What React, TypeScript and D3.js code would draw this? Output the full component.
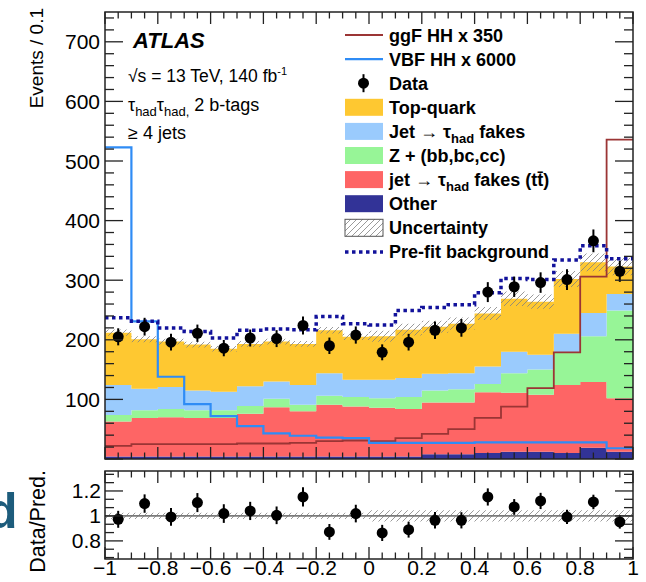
import React, { useEffect, useRef } from "react";
import * as d3 from "d3";

// bin edges: 20 bins of width 0.1 between -1 and 1
const binEdges = d3.range(21).map((i) => -1 + i * 0.1);

// background components (events per bin), stacked bottom -> top
const other = [4, 4, 4, 4, 4, 4, 4, 4, 4, 4, 4, 4, 8, 8, 10, 12, 12, 10, 19, 12];
const fakesTT = [59, 65, 66, 65, 65, 72, 83, 76, 87, 84, 82, 80, 87, 87, 102, 99, 96, 114, 110, 90];
const zHF = [11, 13, 14, 13, 13, 13, 14, 11, 15, 16, 16, 20, 20, 22, 14, 33, 42, 55, 77, 147];
const jetFakes = [50, 36, 37, 33, 31, 33, 29, 33, 38, 29, 31, 32, 28, 27, 29, 36, 25, 31, 39, 28];
const topQuark = [88, 83, 76, 77, 72, 71, 67, 69, 72, 72, 73, 81, 79, 83, 89, 89, 89, 92, 85, 46];

const data = [205, 222, 196, 211, 186, 203, 202, 224, 190, 208, 179, 196, 216, 220, 280, 289, 296, 301, 366, 315];
const preFit = [237, 231, 220, 214, 203, 216, 218, 217, 239, 227, 225, 249, 254, 259, 279, 303, 301, 334, 358, 336];
const ggF = [22, 25, 25, 25, 25, 26, 26, 27, 30, 31, 30, 35, 42, 50, 69, 88, 119, 179, 306, 536];
const vbf = [523, 231, 138, 92, 72, 55, 43, 39, 36, 35, 27, 27, 27, 27, 28, 28, 28, 28, 28, 18];

// relative background uncertainty and data/prediction ratio
const relUnc = [0.025, 0.025, 0.025, 0.025, 0.025, 0.025, 0.025, 0.025, 0.025, 0.025, 0.045, 0.045, 0.045, 0.045, 0.045, 0.045, 0.045, 0.045, 0.045, 0.045];
const ratio = [0.973, 1.099, 0.992, 1.107, 1.019, 1.04, 1.005, 1.152, 0.872, 1.019, 0.864, 0.89, 0.965, 0.965, 1.152, 1.072, 1.12, 0.992, 1.112, 0.952];

const mainTicks = [100, 200, 300, 400, 500, 600, 700];
const ratioTicks = [0.8, 1, 1.2];
const xTicks = [-1, -0.8, -0.6, -0.4, -0.2, 0, 0.2, 0.4, 0.6, 0.8, 1];

const FONT = "'Liberation Sans', Arial, Helvetica, sans-serif";

const stackKeys = ["other", "fakesTT", "zHF", "jetFakes", "topQuark"];
const stackColors = {
  other: "#323397",
  fakesTT: "#fe6565",
  zHF: "#97f597",
  jetFakes: "#9acbfd",
  topQuark: "#fec831",
};

function App() {
  const ref = useRef(null);

  useEffect(() => {
    const svg = d3.select(ref.current);
    svg.selectAll("*").remove();

    const left = 105, right = 633;
    const mTop = 12, mBot = 459;
    const rTop = 471, rBot = 559;

    const x = d3.scaleLinear().domain([-1, 1]).range([left, right]);
    const y = d3.scaleLinear().domain([0, 750]).range([mBot, mTop]);
    const yr = d3.scaleLinear().domain([0.655, 1.36]).range([rBot, rTop]);

    const defs = svg.append("defs");
    defs.append("pattern")
      .attr("id", "hatch")
      .attr("patternUnits", "userSpaceOnUse")
      .attr("width", 6).attr("height", 6)
      .append("path")
      .attr("d", "M-1,1 l2,-2 M0,6 l6,-6 M5,7 l2,-2")
      .attr("stroke", "#808080")
      .attr("stroke-width", 0.8);

    const rows = d3.range(20).map((i) => ({
      other: other[i], fakesTT: fakesTT[i], zHF: zHF[i], jetFakes: jetFakes[i], topQuark: topQuark[i],
    }));
    const series = d3.stack().keys(stackKeys)(rows);
    const total = rows.map((r) => stackKeys.reduce((s, k) => s + r[k], 0));

    // helper: points for step curves, repeating the last bin up to x = 1
    const stepPts = (f) => {
      const pts = d3.range(20).map((i) => ({ x: binEdges[i], ...f(i) }));
      pts.push({ x: 1, ...f(19) });
      return pts;
    };

    const area = d3.area()
      .x((d) => x(d.x))
      .y0((d) => d.lo)
      .y1((d) => d.hi)
      .curve(d3.curveStepAfter);
    const line = d3.line()
      .x((d) => x(d.x))
      .y((d) => d.v)
      .curve(d3.curveStepAfter);

    const main = svg.append("g");

    series.forEach((s) => {
      main.append("path")
        .attr("d", area(stepPts((i) => ({ lo: y(s[i][0]), hi: y(s[i][1]) }))))
        .attr("fill", stackColors[s.key]);
    });

    // uncertainty band
    main.append("path")
      .attr("d", area(stepPts((i) => ({ lo: y(total[i] * (1 - relUnc[i])), hi: y(total[i] * (1 + relUnc[i])) }))))
      .attr("fill", "url(#hatch)");

    main.append("path")
      .attr("d", line(stepPts((i) => ({ v: y(ggF[i]) }))))
      .attr("fill", "none").attr("stroke", "#9b3535").attr("stroke-width", 1.8);
    main.append("path")
      .attr("d", line(stepPts((i) => ({ v: y(vbf[i]) }))))
      .attr("fill", "none").attr("stroke", "#2f8cf5").attr("stroke-width", 2.2);
    main.append("path")
      .attr("d", line(stepPts((i) => ({ v: y(preFit[i]) }))))
      .attr("fill", "none").attr("stroke", "#12129b").attr("stroke-width", 3.5)
      .attr("stroke-dasharray", "3.5,3.5");

    // data points
    const centers = d3.range(20).map((i) => binEdges[i] + 0.05);
    main.selectAll(".derr").data(data).join("line")
      .attr("x1", (d, i) => x(centers[i])).attr("x2", (d, i) => x(centers[i]))
      .attr("y1", (d) => y(d - Math.sqrt(d))).attr("y2", (d) => y(d + Math.sqrt(d)))
      .attr("stroke", "#000").attr("stroke-width", 2);
    main.selectAll(".dpt").data(data).join("circle")
      .attr("cx", (d, i) => x(centers[i])).attr("cy", (d) => y(d))
      .attr("r", 5.5).attr("fill", "#000");

    // ratio panel
    const rp = svg.append("g");
    rp.append("path")
      .attr("d", area(stepPts((i) => ({ lo: yr(1 - relUnc[i]), hi: yr(1 + relUnc[i]) }))))
      .attr("fill", "url(#hatch)");
    rp.append("line")
      .attr("x1", left).attr("x2", right).attr("y1", yr(1)).attr("y2", yr(1))
      .attr("stroke", "#7a7a7a").attr("stroke-width", 1.8);
    rp.selectAll(".rerr").data(ratio).join("line")
      .attr("x1", (d, i) => x(centers[i])).attr("x2", (d, i) => x(centers[i]))
      .attr("y1", (d, i) => yr(d - d / Math.sqrt(data[i])))
      .attr("y2", (d, i) => yr(d + d / Math.sqrt(data[i])))
      .attr("stroke", "#000").attr("stroke-width", 2);
    rp.selectAll(".rpt").data(ratio).join("circle")
      .attr("cx", (d, i) => x(centers[i])).attr("cy", (d) => yr(d))
      .attr("r", 5.5).attr("fill", "#000");

    // frames and ticks
    const frame = (top, bot) => {
      svg.append("rect")
        .attr("x", left).attr("y", top).attr("width", right - left).attr("height", bot - top)
        .attr("fill", "none").attr("stroke", "#222").attr("stroke-width", 1.5);
    };
    frame(mTop, mBot);
    frame(rTop, rBot);

    const ticks = svg.append("g").attr("stroke", "#222").attr("stroke-width", 1.3);
    const xMinor = d3.range(41).map((i) => -1 + i * 0.05);
    [[mTop, mBot], [rTop, rBot]].forEach(([top, bot]) => {
      xMinor.forEach((v, i) => {
        const len = i % 4 === 0 ? 12 : 6.5;
        ticks.append("line").attr("x1", x(v)).attr("x2", x(v)).attr("y1", bot).attr("y2", bot - len);
        ticks.append("line").attr("x1", x(v)).attr("x2", x(v)).attr("y1", top).attr("y2", top + len);
      });
    });
    d3.range(0, 751, 20).forEach((v) => {
      const len = v % 100 === 0 ? 18 : 9;
      ticks.append("line").attr("x1", left).attr("x2", left + len).attr("y1", y(v)).attr("y2", y(v));
      ticks.append("line").attr("x1", right).attr("x2", right - len).attr("y1", y(v)).attr("y2", y(v));
    });
    d3.range(0, 12).map((i) => 0.6 + i * 0.2 / 3).filter((v) => v > 0.655 && v < 1.36).forEach((v) => {
      const major = ratioTicks.some((t) => Math.abs(t - v) < 1e-6);
      const len = major ? 18 : 9;
      ticks.append("line").attr("x1", left).attr("x2", left + len).attr("y1", yr(v)).attr("y2", yr(v));
      ticks.append("line").attr("x1", right).attr("x2", right - len).attr("y1", yr(v)).attr("y2", yr(v));
    });

    // tick labels
    const labels = svg.append("g").attr("font-family", FONT).attr("font-size", 21).attr("fill", "#000");
    mainTicks.forEach((v) => {
      labels.append("text").attr("x", 100).attr("y", y(v) + 7.5).attr("text-anchor", "end").text(v);
    });
    ratioTicks.forEach((v) => {
      labels.append("text").attr("x", 101).attr("y", yr(v) + 7.5).attr("text-anchor", "end").text(v);
    });
    xTicks.forEach((v) => {
      labels.append("text").attr("x", x(v)).attr("y", 575).attr("text-anchor", "middle")
        .text(d3.format("")(Math.round(v * 10) / 10).replace("-", "\u2212"));
    });

    // axis titles
    svg.append("text").attr("transform", "translate(43,8) rotate(-90)")
      .attr("text-anchor", "end").attr("font-family", FONT).attr("font-size", 19).text("Events / 0.1");
    svg.append("text").attr("transform", "translate(45,470) rotate(-90)")
      .attr("text-anchor", "end").attr("font-family", FONT).attr("font-size", 21.5).text("Data/Pred.");

    // cut-off letter at the left edge
    svg.append("text").attr("x", -13).attr("y", 528).attr("font-family", FONT)
      .attr("font-size", 50).attr("font-weight", "bold").attr("fill", "#1d5c7c").text("d");

    // ATLAS label
    const info = svg.append("g").attr("font-family", FONT).attr("fill", "#000");
    info.append("text").attr("x", 133).attr("y", 48).attr("font-size", 22)
      .attr("font-weight", "bold").attr("font-style", "italic").text("ATLAS");
    const t1 = info.append("text").attr("x", 128).attr("y", 82).attr("font-size", 17.5);
    t1.append("tspan").text("\u221As = 13 TeV, 140 fb");
    t1.append("tspan").attr("dy", -7).attr("font-size", 11).text("-1");
    const t2 = info.append("text").attr("x", 128).attr("y", 111).attr("font-size", 18);
    t2.append("tspan").text("\u03C4");
    t2.append("tspan").attr("dy", 5).attr("font-size", 13).text("had");
    t2.append("tspan").attr("dy", -5).text("\u03C4");
    t2.append("tspan").attr("dy", 5).attr("font-size", 13).text("had,");
    t2.append("tspan").attr("dy", -5).text(" 2 b-tags");
    info.append("text").attr("x", 128).attr("y", 139).attr("font-size", 18).text("\u2265 4 jets");

    // legend
    const lg = svg.append("g").attr("font-family", FONT).attr("font-size", 18).attr("font-weight", "bold");
    const lx0 = 345, lx1 = 383, tx = 389;
    const rowY = d3.range(10).map((i) => 35 + i * 24.1);
    const legendItems = [
      { type: "line", color: "#9b3535", w: 1.8, label: ["ggF HH x 350"] },
      { type: "line", color: "#2f8cf5", w: 2.2, label: ["VBF HH x 6000"] },
      { type: "data", label: ["Data"] },
      { type: "box", color: stackColors.topQuark, label: ["Top-quark"] },
      { type: "box", color: stackColors.jetFakes, label: ["Jet \u2192 \u03C4", "had", " fakes"] },
      { type: "box", color: stackColors.zHF, label: ["Z + (bb,bc,cc)"] },
      { type: "box", color: stackColors.fakesTT, label: ["jet \u2192 \u03C4", "had", " fakes (tt\u0304)"] },
      { type: "box", color: stackColors.other, label: ["Other"] },
      { type: "hatch", label: ["Uncertainty"] },
      { type: "dots", label: ["Pre-fit background"] },
    ];
    legendItems.forEach((it, i) => {
      const cy = rowY[i];
      if (it.type === "line") {
        lg.append("line").attr("x1", lx0).attr("x2", lx1).attr("y1", cy).attr("y2", cy)
          .attr("stroke", it.color).attr("stroke-width", it.w);
      } else if (it.type === "data") {
        lg.append("line").attr("x1", 363.5).attr("x2", 363.5).attr("y1", cy - 9).attr("y2", cy + 9)
          .attr("stroke", "#000").attr("stroke-width", 2);
        lg.append("circle").attr("cx", 363.5).attr("cy", cy).attr("r", 5.5).attr("fill", "#000");
      } else if (it.type === "box") {
        lg.append("rect").attr("x", lx0).attr("y", cy - 8.5).attr("width", lx1 - lx0).attr("height", 17)
          .attr("fill", it.color);
      } else if (it.type === "hatch") {
        lg.append("rect").attr("x", lx0).attr("y", cy - 8.5).attr("width", lx1 - lx0).attr("height", 17)
          .attr("fill", "url(#hatch)").attr("stroke", "#555").attr("stroke-width", 1);
      } else {
        lg.append("line").attr("x1", lx0).attr("x2", lx1).attr("y1", cy).attr("y2", cy)
          .attr("stroke", "#12129b").attr("stroke-width", 3.5).attr("stroke-dasharray", "3.5,3.5");
      }
      const t = lg.append("text").attr("x", tx).attr("y", cy + 6.5);
      t.append("tspan").text(it.label[0]);
      if (it.label.length > 1) {
        t.append("tspan").attr("dy", 5).attr("font-size", 13).text(it.label[1]);
        t.append("tspan").attr("dy", -5).text(it.label[2]);
      }
    });
  }, []);

  return (
    <svg ref={ref} width={646} height={582}
      style={{ position: "absolute", left: 0, top: 0, background: "#fff" }} />
  );
}

export default App;
